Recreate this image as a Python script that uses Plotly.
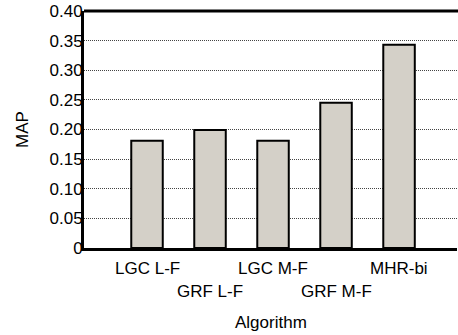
import plotly.graph_objects as go

categories = ["LGC L-F", "GRF L-F", "LGC M-F", "GRF M-F", "MHR-bi"]
map_values = [0.181, 0.199, 0.181, 0.245, 0.343]
y_tick_vals = [0, 0.05, 0.10, 0.15, 0.20, 0.25, 0.30, 0.35, 0.40]
y_tick_text = ["0", "0.05", "0.10", "0.15", "0.20", "0.25", "0.30", "0.35", "0.40"]

FONT = "Liberation Sans, Arial, sans-serif"
FS = 17

positions = list(range(1, len(categories) + 1))

fig = go.Figure()
fig.add_trace(go.Bar(
    x=positions, y=map_values, width=0.5,
    marker=dict(color="#d4d0c8", line=dict(color="#000000", width=2)),
    showlegend=False,
))

annotations = []
for i, (p, c) in enumerate(zip(positions, categories)):
    annotations.append(dict(
        x=p, y=0, xref="x", yref="paper", text=c, showarrow=False,
        xanchor="center", yanchor="top",
        yshift=-9 if i % 2 == 0 else -32,
        font=dict(family=FONT, size=FS, color="#000"),
    ))
annotations.append(dict(
    x=0.5, y=0, xref="paper", yref="paper", text="Algorithm", showarrow=False,
    xanchor="center", yanchor="top", yshift=-63,
    font=dict(family=FONT, size=FS, color="#000"),
))

fig.update_layout(
    width=458, height=335,
    margin=dict(l=84, r=1, t=11, b=87),
    paper_bgcolor="white", plot_bgcolor="white",
    font=dict(family=FONT, size=FS, color="#000"),
    annotations=annotations,
    shapes=[dict(type="line", xref="paper", yref="paper", x0=0, x1=1.01, y0=1, y1=1,
                 line=dict(color="#000", width=3))],
    xaxis=dict(
        range=[0, 5.92], showticklabels=False, showgrid=False, zeroline=False,
        showline=True, linecolor="#000", linewidth=3, ticks="",
    ),
    yaxis=dict(
        range=[0, 0.40], tickvals=y_tick_vals, ticktext=y_tick_text,
        showgrid=True, gridcolor="#444", griddash="1px,1px", gridwidth=1,
        zeroline=False, showline=True, linecolor="#000", linewidth=3,
        ticks="", ticklen=0, ticklabelstandoff=-5,
        tickfont=dict(family=FONT, size=FS, color="#000"),
        title=dict(text="MAP", font=dict(family=FONT, size=FS, color="#000"), standoff=17),
    ),
)

fig.write_html("out.html")
